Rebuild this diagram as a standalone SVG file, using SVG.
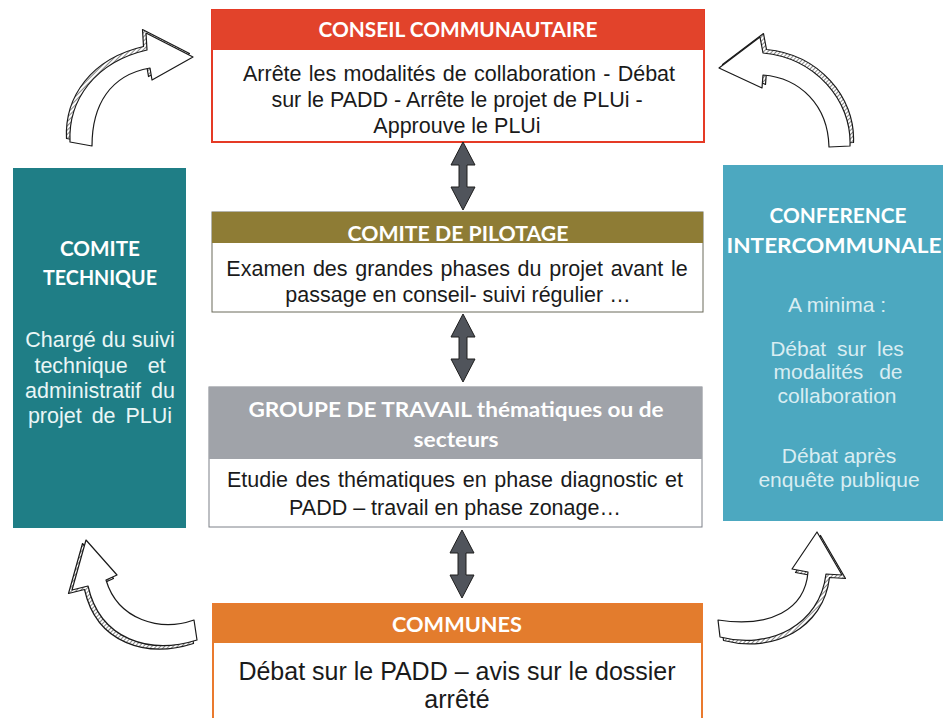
<svg xmlns="http://www.w3.org/2000/svg" width="943" height="718" viewBox="0 0 943 718">
<style>
.hd{font-family:Lato,"Open Sans",sans-serif;font-weight:bold;fill:#ffffff;text-anchor:middle}
.bd{font-family:"Liberation Sans",Arial,sans-serif;fill:#1a1a1a;text-anchor:middle;font-size:21.5px}
.side{font-family:"Liberation Sans",Arial,sans-serif;text-anchor:middle}
.dbl{fill:#50545b;stroke:#1e1e1e;stroke-width:1}
.arw{fill:#ffffff;stroke:#1a1a1a;stroke-width:1.2;stroke-linejoin:round}
.arw3d{fill:url(#hatch);stroke:#1a1a1a;stroke-width:1.2;stroke-linejoin:round}
</style>
<defs>
<pattern id="hatch" patternUnits="userSpaceOnUse" width="3" height="3" patternTransform="rotate(45)">
<rect width="3" height="3" fill="#ffffff"/>
<line x1="0" y1="0" x2="0" y2="3" stroke="#222" stroke-width="1.1"/>
</pattern>
<path id="dblp" d="M0,0 L12,23 L4,23 L4,45 L12,45 L0,68 L-12,45 L-4,45 L-4,23 L-12,23 Z"/>
</defs>
<rect width="943" height="718" fill="#ffffff"/>

<g id="conseil">
<rect x="212" y="10" width="492" height="132" fill="#ffffff" stroke="#e53a25" stroke-width="2"/>
<rect x="212" y="10" width="492" height="40" fill="#e2432b"/>
<text class="hd" x="458" y="37" font-size="21" textLength="279" lengthAdjust="spacingAndGlyphs">CONSEIL COMMUNAUTAIRE</text>
<text class="bd" x="459" y="81" word-spacing="1.3">Arrête les modalités de collaboration - Débat</text>
<text class="bd" x="457" y="107">sur le PADD - Arrête le projet de PLUi -</text>
<text class="bd" x="457" y="133">Approuve le PLUi</text>
</g>

<g id="pilotage">
<rect x="212" y="212" width="491" height="100" fill="#ffffff" stroke="#6b6a5a" stroke-width="1"/>
<rect x="212" y="212" width="491" height="31" fill="#8e7c35"/>
<text class="hd" x="458" y="241" font-size="20" textLength="221" lengthAdjust="spacingAndGlyphs">COMITE DE PILOTAGE</text>
<text class="bd" x="457" y="276" word-spacing="1.7">Examen des grandes phases du projet avant le</text>
<text class="bd" x="458" y="302">passage en conseil- suivi régulier …</text>
</g>

<g id="groupe">
<rect x="209" y="387" width="493" height="140" fill="#ffffff" stroke="#7d8088" stroke-width="1"/>
<rect x="209" y="387" width="493" height="72" fill="#a0a3a9"/>
<text class="hd" x="456" y="417" font-size="20" textLength="415" lengthAdjust="spacingAndGlyphs">GROUPE DE TRAVAIL thématiques ou de</text>
<text class="hd" x="456" y="447" font-size="20" textLength="85" lengthAdjust="spacingAndGlyphs">secteurs</text>
<text class="bd" x="455" y="487" word-spacing="1.7">Etudie des thématiques en phase diagnostic et</text>
<text class="bd" x="455" y="515">PADD – travail en phase zonage…</text>
</g>

<g id="communes">
<rect x="213" y="604" width="489" height="120" fill="#ffffff" stroke="#ea7a2e" stroke-width="2"/>
<rect x="213" y="604" width="489" height="39" fill="#e37c2d"/>
<text class="hd" x="457" y="632" font-size="20" textLength="130" lengthAdjust="spacingAndGlyphs">COMMUNES</text>
<text class="bd" x="457" y="680" style="font-size:25px">Débat sur le PADD – avis sur le dossier</text>
<text class="bd" x="457" y="708" style="font-size:25px">arrêté</text>
</g>

<g id="comite-technique">
<rect x="13" y="168" width="173" height="360" fill="#1f7e86"/>
<text class="hd" x="100" y="256" font-size="21" textLength="80" lengthAdjust="spacingAndGlyphs">COMITE</text>
<text class="hd" x="100" y="285" font-size="21" textLength="114" lengthAdjust="spacingAndGlyphs">TECHNIQUE</text>
<g class="side" fill="#eaf6f6" font-size="21.5">
<text x="100" y="347">Chargé du suivi</text>
<text x="100" y="373" word-spacing="14">technique et</text>
<text x="100" y="398" word-spacing="4">administratif du</text>
<text x="100" y="423" word-spacing="4">projet de PLUi</text>
</g>
</g>

<g id="conference">
<rect x="723" y="165" width="225" height="356" fill="#4ca8c0"/>
<text class="hd" x="838" y="223" font-size="21" fill="#f2f8fa" textLength="137" lengthAdjust="spacingAndGlyphs">CONFERENCE</text>
<text class="hd" x="834" y="253" font-size="21" textLength="215" lengthAdjust="spacingAndGlyphs">INTERCOMMUNALE</text>
<g class="side" fill="#d9edf2" font-size="21">
<text x="837" y="312">A minima :</text>
<text x="837" y="356" word-spacing="5">Débat sur les</text>
<text x="838" y="379" word-spacing="10">modalités de</text>
<text x="837" y="403">collaboration</text>
<text x="839" y="463">Débat après</text>
<text x="839" y="487">enquête publique</text>
</g>
</g>

<g id="connectors">
<use href="#dblp" class="dbl" transform="translate(463,142)"/>
<use href="#dblp" class="dbl" transform="translate(463,314)"/>
<use href="#dblp" class="dbl" transform="translate(462,530)"/>

<g transform="translate(-3.5,-3.5)"><path class="arw3d" d="M70,142 C68,100 95,62 147,50 L146,33 L193,57 L152,80 L150,68 C110,75 92,105 92,146 Z"/></g>
<path class="arw" d="M70,142 C68,100 95,62 147,50 L146,33 L193,57 L152,80 L150,68 C110,75 92,105 92,146 Z"/>

<g transform="translate(3.5,-3.5)"><path class="arw3d" d="M850,146 C852,100 815,58 763,53 L760,37 L719,68 L762,88 L763,75 C800,78 828,105 829,147 Z"/></g>
<path class="arw" d="M850,146 C852,100 815,58 763,53 L760,37 L719,68 L762,88 L763,75 C800,78 828,105 829,147 Z"/>

<g transform="translate(-3.5,3.5)"><path class="arw3d" d="M197,640 C150,655 100,640 88,586 L72,590 L86,540 L117,575 L106,580 C118,620 160,632 194,620 Z"/></g>
<path class="arw" d="M197,640 C150,655 100,640 88,586 L72,590 L86,540 L117,575 L106,580 C118,620 160,632 194,620 Z"/>

<g transform="translate(3.5,3.5)"><path class="arw3d" d="M720,637 C770,650 820,625 826,574 L842,575 L817,532 L792,569 L808,572 C805,610 770,628 718,620 Z"/></g>
<path class="arw" d="M720,637 C770,650 820,625 826,574 L842,575 L817,532 L792,569 L808,572 C805,610 770,628 718,620 Z"/>
</g>
</svg>
